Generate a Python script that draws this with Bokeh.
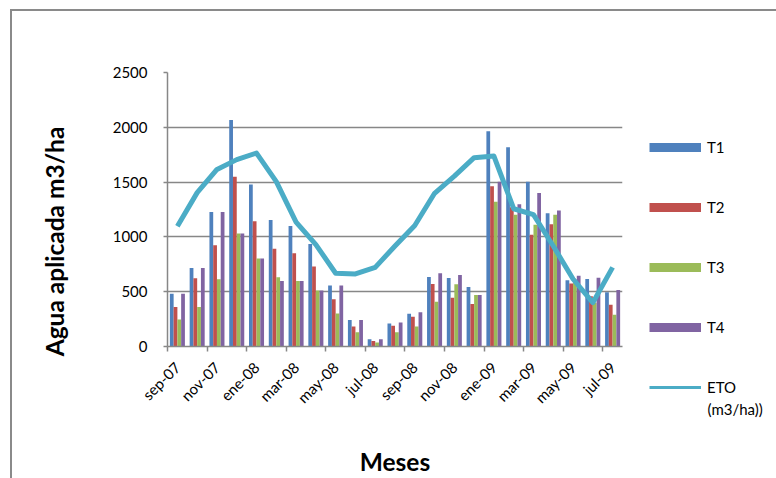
import math
from bokeh.plotting import figure
from bokeh.models import (Range1d, LinearAxis, FixedTicker, Grid, Legend,
                          LegendItem, Label, ColumnDataSource)
from bokeh.layouts import column, row
from bokeh.embed import file_html
from bokeh.resources import INLINE

# Monthly irrigation applied per treatment (m3/ha) and reference ETO
months = ["sep-07", "oct-07", "nov-07", "dic-07", "ene-08", "feb-08", "mar-08",
          "abr-08", "may-08", "jun-08", "jul-08", "ago-08", "sep-08", "oct-08",
          "nov-08", "dic-08", "ene-09", "feb-09", "mar-09", "abr-09", "may-09",
          "jun-09", "jul-09"]
t1 = [481, 716, 1227, 2066, 1479, 1155, 1100, 935, 556, 241, 66, 210, 298, 634,
      625, 544, 1964, 1819, 1504, 1216, 605, 615, 495]
t2 = [361, 622, 923, 1549, 1143, 893, 851, 730, 430, 183, 51, 189, 271, 571,
      445, 388, 1461, 1270, 1019, 1115, 575, 458, 382]
t3 = [247, 361, 613, 1032, 803, 631, 598, 512, 300, 129, 36, 129, 183, 409,
      568, 469, 1320, 1203, 1110, 1203, 611, 400, 290]
t4 = [481, 716, 1227, 1032, 803, 598, 598, 512, 556, 241, 66, 219, 313, 668,
      653, 469, 1504, 1299, 1401, 1242, 646, 628, 516]
eto = [1098, 1404, 1615, 1705, 1765, 1504, 1135, 930, 668, 662, 722, 917, 1104,
       1398, 1555, 1723, 1738, 1257, 1203, 917, 616, 400, 722]
y_ticks = [0, 500, 1000, 1500, 2000, 2500]

series = [("T1", t1, "#4F81BD"), ("T2", t2, "#C0504D"),
          ("T3", t3, "#9BBB59"), ("T4", t4, "#8064A2")]
eto_color = "#4BACC6"
gray = "#878787"
font = "Lato"
H = 467

idx = list(range(len(months)))


def blank(width):
    """Axis-free panel whose data units are pixels from its bottom-left."""
    f = figure(width=width, height=H, x_range=Range1d(0, width),
               y_range=Range1d(0, H), x_axis_type=None, y_axis_type=None,
               output_backend="svg", toolbar_location=None, frame_align=False,
               min_border=0, min_border_left=0, min_border_right=0,
               min_border_top=0, min_border_bottom=0)
    f.outline_line_color = None
    return f


# left panel: vertical axis title
title_panel = blank(60)
title_panel.add_layout(Label(x=42, y=237, text="Agua aplicada m3/ha",
                             angle=math.pi / 2, text_align="center",
                             text_baseline="middle", text_font=font,
                             text_font_style="bold", text_font_size="24.5px",
                             text_color="#000000"))

# main chart
p = figure(width=568, height=H,
           x_range=Range1d(-0.5, len(months) - 0.5), y_range=Range1d(0, 2500),
           x_axis_type=None, y_axis_type=None,
           output_backend="svg", toolbar_location=None, frame_align=False,
           min_border_left=95, min_border_right=18,
           min_border_top=61, min_border_bottom=130)
p.outline_line_color = None

yaxis = LinearAxis(ticker=FixedTicker(ticks=y_ticks),
                   axis_line_color=gray, axis_line_width=1.5,
                   major_tick_line_color=gray, major_tick_line_width=1.5,
                   major_tick_in=0, major_tick_out=4,
                   minor_tick_line_color=None,
                   major_label_standoff=16,
                   major_label_text_font=font, major_label_text_font_size="15px",
                   major_label_text_color="#000000")
p.add_layout(yaxis, "left")
p.add_layout(Grid(dimension=1, ticker=yaxis.ticker,
                  grid_line_color=gray, grid_line_width=1.5))

# month labels on every other category, tick marks on category boundaries
boundaries = [i - 0.5 for i in idx[::2]]
xaxis = LinearAxis(ticker=FixedTicker(ticks=idx[::2], minor_ticks=boundaries),
                   major_label_overrides={i: months[i] for i in idx[::2]},
                   major_label_orientation=math.pi / 4,
                   axis_line_color=gray, axis_line_width=1.5,
                   major_tick_line_color=None,
                   minor_tick_line_color=gray, minor_tick_line_width=1.5,
                   minor_tick_in=0, minor_tick_out=5,
                   major_tick_in=0, major_tick_out=5,
                   major_label_standoff=13,
                   major_label_text_font=font, major_label_text_font_size="15px",
                   major_label_text_color="#000000",
                   axis_label="Meses", axis_label_standoff=31,
                   axis_label_text_font=font, axis_label_text_font_style="bold",
                   axis_label_text_font_size="24.5px",
                   axis_label_text_color="#000000")
p.add_layout(xaxis, "below")

# grouped bars
bar_w = 0.19
offsets = [-1.5 * bar_w, -0.5 * bar_w, 0.5 * bar_w, 1.5 * bar_w]
for (name, vals, color), off in zip(series, offsets):
    src = ColumnDataSource(dict(x=[i + off for i in idx], top=vals))
    p.vbar(x="x", top="top", width=bar_w, bottom=0, source=src,
           fill_color=color, line_color=None)

# ETO line
p.line(idx, eto, line_color=eto_color, line_width=5, line_join="round")

# right panel: legend (swatch lines sit off-range, only their keys show)
legend_panel = blank(136)
off_x, off_y = [-50, -40], [-50, -50]
items = []
for name, _, color in series:
    sw = legend_panel.line(off_x, off_y, line_width=9, line_color=color)
    items.append(LegendItem(label=name, renderers=[sw]))
sw = legend_panel.line(off_x, off_y, line_width=3, line_color=eto_color)
items.append(LegendItem(label="ETO", renderers=[sw]))

legend = Legend(items=items, location=(9, 81),
                glyph_width=52, glyph_height=20, label_height=20,
                spacing=40, padding=0, margin=0, label_standoff=6,
                border_line_color=None, background_fill_alpha=0,
                label_text_font=font, label_text_font_size="15px",
                label_text_color="#000000")
legend_panel.add_layout(legend)
legend_panel.add_layout(Label(x=67, y=70, text="(m3/ha))", text_baseline="middle",
                              text_align="left", text_font=font,
                              text_font_size="15px", text_color="#000000"))

page = column(row(title_panel, p, legend_panel), margin=(9, 0, 0, 10),
              styles={"border-left": "2px solid #8a8a8a",
                      "border-top": "2px solid #8a8a8a"})

open("out.html", "w").write(file_html(page, INLINE))
